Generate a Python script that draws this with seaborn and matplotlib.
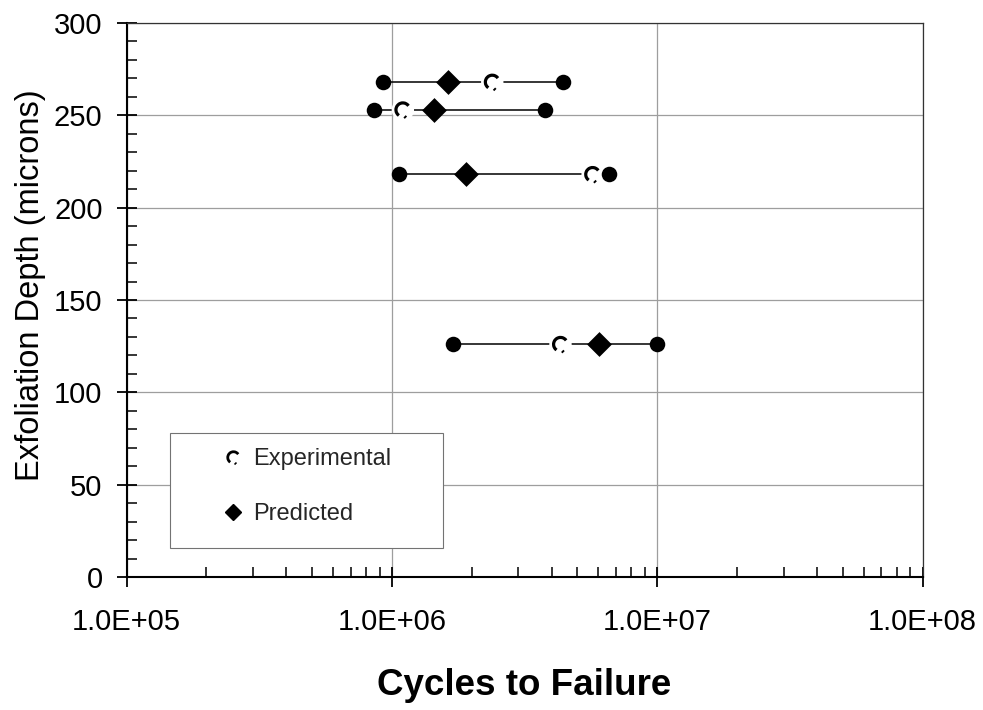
import numpy as np
import pandas as pd
import matplotlib
matplotlib.use("Agg")
import matplotlib.pyplot as plt
from matplotlib.path import Path
from matplotlib.lines import Line2D
from matplotlib.patches import Rectangle
from matplotlib.ticker import FixedLocator, LogLocator, MultipleLocator, NullFormatter
import seaborn as sns

# Exfoliation depth (microns) for each test condition
depth = [268, 253, 218, 126]
# Scatter band of the predicted life (cycles to failure)
life_lower = [9.3e5, 8.6e5, 1.06e6, 1.70e6]
life_upper = [4.41e6, 3.77e6, 6.61e6, 1.0e7]
# Mean predicted and measured lives
life_predicted = [1.63e6, 1.44e6, 1.91e6, 6.03e6]
life_experimental = [2.39e6, 1.10e6, 5.71e6, 4.32e6]

x_ticks = [1e5, 1e6, 1e7, 1e8]
x_tick_labels = ["1.0E+05", "1.0E+06", "1.0E+07", "1.0E+08"]
y_ticks = [0, 50, 100, 150, 200, 250, 300]

sns.set_style("ticks")
plt.rcParams["font.family"] = ["Liberation Sans", "DejaVu Sans"]

bounds = pd.DataFrame({"depth": depth * 2, "cycles": life_lower + life_upper})
pred = pd.DataFrame({"depth": depth, "cycles": life_predicted})
expt = pd.DataFrame({"depth": depth, "cycles": life_experimental})

fig = plt.figure(figsize=(9.83, 7.10), dpi=100)
ax = fig.add_axes([0.1287, 0.1873, 0.8098, 0.7803])
ax.set_xscale("log")

# scatter band lines
ax.hlines(depth, life_lower, life_upper, color="black", lw=1.1, zorder=2)

# experimental symbol: white backing that breaks the band line, then the glyph
sns.scatterplot(data=expt, x="cycles", y="depth", marker="o", s=260,
                color="white", edgecolor="none", linewidth=0, zorder=3,
                ax=ax, legend=False)
exp_marker = Path.make_compound_path(
    Path.arc(35, 235),
    Path([(0.25, -0.95), (0.45, -1.15)]),
)
sns.scatterplot(data=expt, x="cycles", y="depth", marker=exp_marker, s=130,
                facecolor="none", edgecolor="black", linewidth=2.3, zorder=4,
                ax=ax, legend=False)

# band end points and predicted lives
sns.scatterplot(data=bounds, x="cycles", y="depth", marker="o", s=125,
                color="black", edgecolor="black", linewidth=0, zorder=5,
                ax=ax, legend=False)
sns.scatterplot(data=pred, x="cycles", y="depth", marker="D", s=160,
                color="black", edgecolor="black", linewidth=0, zorder=5,
                ax=ax, legend=False)

ax.set_xlim(1e5, 1e8)
ax.set_ylim(0, 300)

ax.xaxis.set_major_locator(FixedLocator(x_ticks))
ax.set_xticklabels(x_tick_labels)
ax.xaxis.set_minor_locator(LogLocator(base=10, subs=np.arange(2, 10), numticks=20))
ax.xaxis.set_minor_formatter(NullFormatter())
ax.yaxis.set_major_locator(FixedLocator(y_ticks))
ax.yaxis.set_minor_locator(MultipleLocator(10))

ax.tick_params(which="major", direction="inout", length=14.4, width=1.3,
               labelsize=21, color="black", labelcolor="black")
ax.tick_params(which="minor", direction="in", length=7, width=1.1, color="black")
ax.tick_params(axis="x", which="major", pad=15)
ax.tick_params(axis="y", which="major", pad=10)
ax.tick_params(which="both", top=False, right=False)

ax.grid(True, which="major", color="0.62", lw=0.9)
ax.set_axisbelow(True)

for side in ("left", "bottom"):
    ax.spines[side].set_linewidth(1.5)
    ax.spines[side].set_color("black")
for side in ("top", "right"):
    ax.spines[side].set_linewidth(0.9)
    ax.spines[side].set_color("0.2")

ax.set_ylabel("Exfoliation Depth (microns)", fontsize=23.5, color="black")
ax.yaxis.set_label_coords(-0.101, 0.527)
ax.set_xlabel("Cycles to Failure", fontsize=26.5, fontweight="bold", color="black")
ax.xaxis.set_label_coords(0.5, -0.164)

# legend box
box = Rectangle((170 / 983, 1 - 548 / 710), 273 / 983, 115 / 710,
                transform=fig.transFigure, facecolor="white",
                edgecolor="0.45", lw=0.8, zorder=6)
ax.add_patch(box)
handles = [
    Line2D([], [], marker=exp_marker, linestyle="none", markerfacecolor="none",
           markeredgecolor="black", markeredgewidth=2.0, markersize=9.5),
    Line2D([], [], marker="D", linestyle="none", color="black", markersize=8.5),
]
leg = ax.legend(handles, ["Experimental", "Predicted"], loc="center left",
                bbox_to_anchor=(221 / 983, 1 - 486.5 / 710),
                bbox_transform=fig.transFigure, frameon=False, fontsize=17,
                handlelength=1.0, handletextpad=0.35, labelspacing=1.4,
                borderpad=0, borderaxespad=0)
leg.set_zorder(7)

fig.savefig("out.png", dpi=100)
